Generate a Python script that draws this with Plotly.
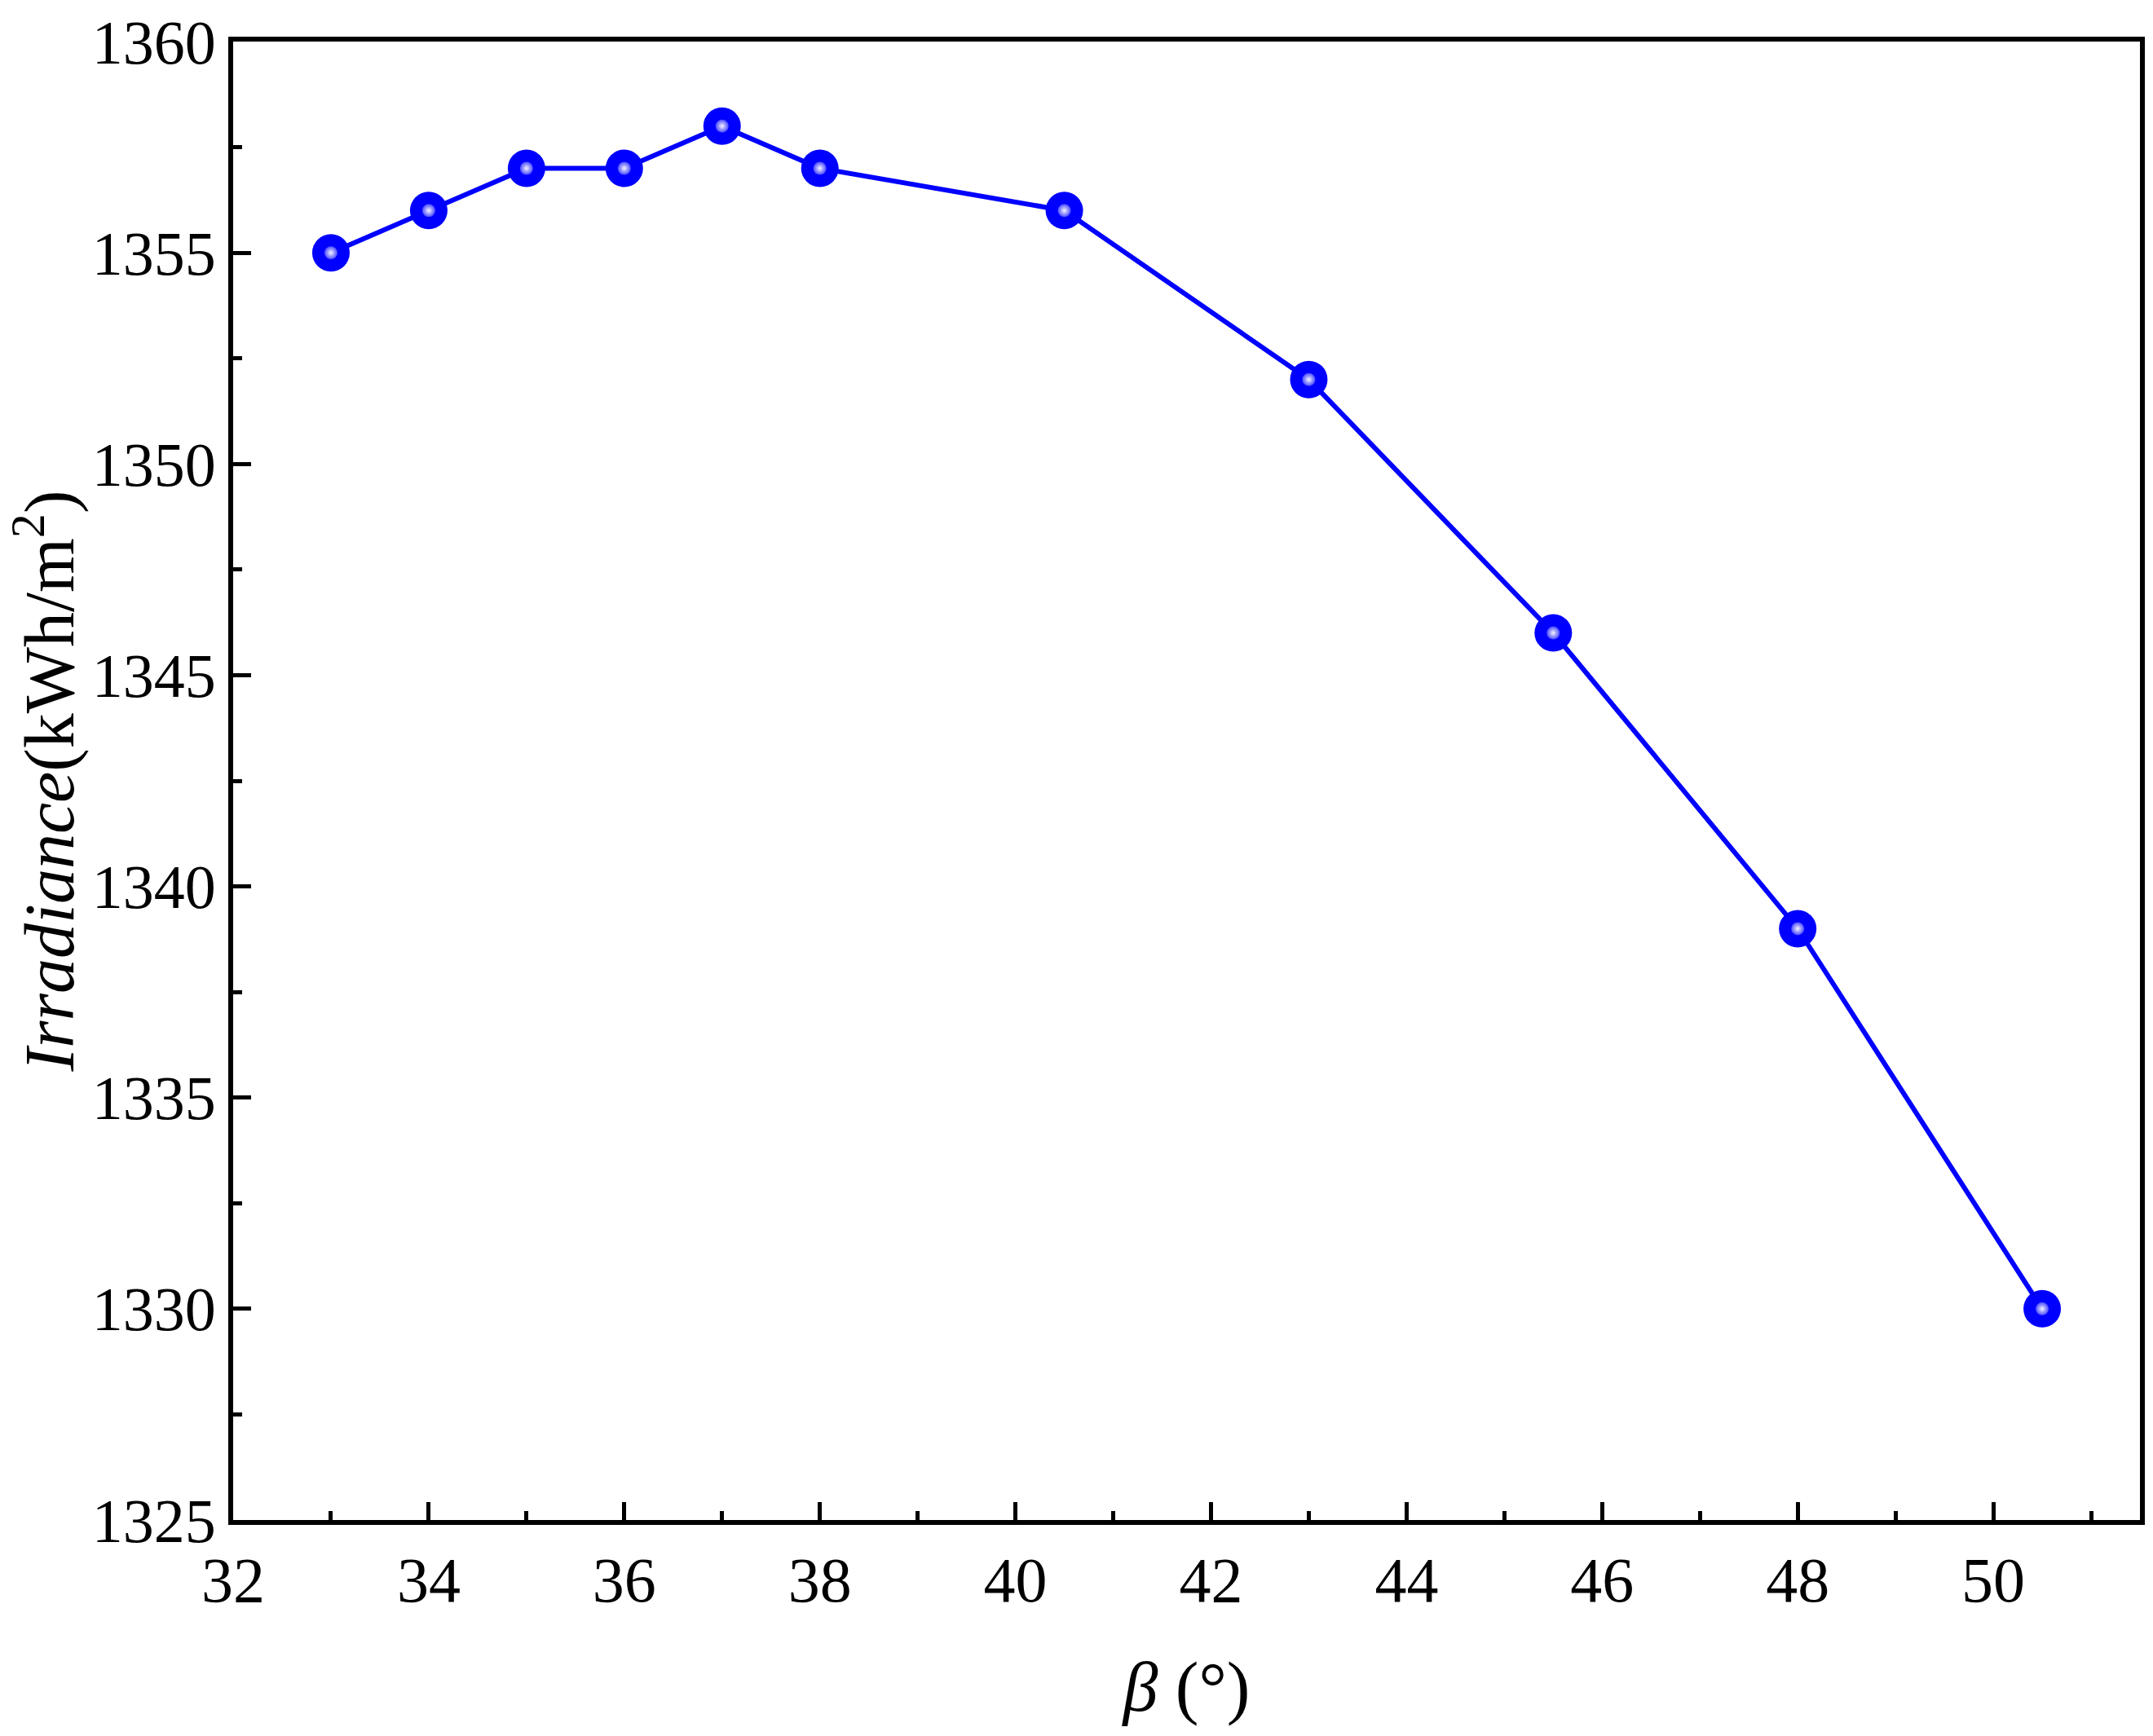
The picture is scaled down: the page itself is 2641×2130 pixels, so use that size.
import plotly.graph_objects as go

beta = [33, 34, 35, 36, 37, 38, 40.5, 43, 45.5, 48, 50.5]
irradiance = [1355, 1356, 1357, 1357, 1358, 1357, 1356, 1352, 1346, 1339, 1330]
x_ticks = [32, 34, 36, 38, 40, 42, 44, 46, 48, 50]
y_ticks = [1325, 1330, 1335, 1340, 1345, 1350, 1355, 1360]

FAM = "Times New Roman, Liberation Serif, Tinos, serif"

fig = go.Figure()
fig.add_trace(go.Scatter(
    x=beta, y=irradiance, mode="lines+markers",
    line=dict(color="#0000FF", width=6),
    marker=dict(size=46, color="#0000FF", line=dict(width=0)),
    showlegend=False,
))
fig.add_trace(go.Scatter(
    x=beta, y=irradiance, mode="markers",
    marker=dict(size=16, color="#4A4AFF", line=dict(width=0),
                gradient=dict(type="radial", color="#F4F4FF")),
    showlegend=False, hoverinfo="skip",
))

fig.update_layout(
    width=2641, height=2130,
    margin=dict(l=286, r=10, t=47, b=265),
    paper_bgcolor="white", plot_bgcolor="white",
    font=dict(family=FAM, color="black", size=76),
)
fig.update_xaxes(
    range=[32, 51.5], tickvals=x_ticks, ticks="inside", ticklen=22, tickwidth=5,
    tickcolor="black", showline=True, linecolor="black", linewidth=6, mirror=True,
    showgrid=False, zeroline=False,
    minor=dict(ticks="inside", ticklen=11, tickwidth=5, dtick=1, tickcolor="black", showgrid=False),
    title=dict(text="<i>β</i> (°)", font=dict(family=FAM, size=86), standoff=60),
    tickfont=dict(family=FAM, size=78),
)
fig.update_yaxes(
    range=[1325, 1360], tickvals=y_ticks, ticks="inside", ticklen=22, tickwidth=5,
    tickcolor="black", showline=True, linecolor="black", linewidth=6, mirror=True,
    showgrid=False, zeroline=False,
    minor=dict(ticks="inside", ticklen=11, tickwidth=5, dtick=2.5, tickcolor="black", showgrid=False),
    title=dict(text="<i>Irradiance</i>(kWh/m<sup>2</sup>)", font=dict(family=FAM, size=86), standoff=22),
    tickfont=dict(family=FAM, size=76),
)

fig.write_html("out.html")
